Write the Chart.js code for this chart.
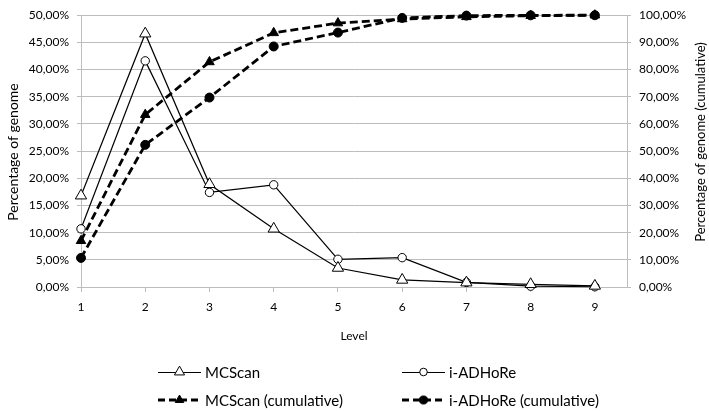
<!DOCTYPE html>
<html>
<head>
<meta charset="utf-8">
<script src="https://cdn.jsdelivr.net/npm/chart.js@4"></script>
<style>
  html, body { margin: 0; padding: 0; background: #fff; }
  #wrap { width: 709px; height: 411px; position: relative; }
</style>
</head>
<body>
<div id="wrap"><canvas id="chart"></canvas></div>
<script>
// Data
const levels = [1, 2, 3, 4, 5, 6, 7, 8, 9];
const mcscan = [16.8, 46.6, 18.9, 10.7, 3.5, 1.3, 0.8, 0.5, 0.2];
const iadhore = [10.7, 41.6, 17.4, 18.8, 5.1, 5.4, 0.85, 0.15, 0.05];
const mcscanCum = [17.0, 63.4, 82.8, 93.5, 97.1, 98.6, 99.4, 99.8, 100];
const iadhoreCum = [10.7, 52.3, 69.7, 88.5, 93.6, 99.0, 99.85, 99.95, 100];
const seriesNames = ['MCScan', 'i-ADHoRe', 'MCScan (cumulative)', 'i-ADHoRe (cumulative)'];
const leftTitle = 'Percentage of genome';
const rightTitle = 'Percentage of genome (cumulative)';

const FONT = "Lato, 'Open Sans', sans-serif";
const GRID = '#bdbdbd';

function pts(vals) {
  return levels.map((l, i) => ({ x: l, y: vals[i] }));
}
function pct(v) {
  return v.toFixed(2).replace('.', ',') + '%';
}

const styles = [
  { pointStyle: 'triangle', radius: 6.5, fill: '#fff', dash: [], width: 1.2 },
  { pointStyle: 'circle', radius: 4.2, fill: '#fff', dash: [], width: 1.2 },
  { pointStyle: 'triangle', radius: 5.5, fill: '#000', dash: [8, 4], width: 2.8 },
  { pointStyle: 'circle', radius: 4.5, fill: '#000', dash: [8, 4], width: 2.8 }
];

const datasets = [mcscan, iadhore, mcscanCum, iadhoreCum].map((vals, i) => ({
  label: seriesNames[i],
  data: pts(vals),
  yAxisID: i < 2 ? 'y' : 'y2',
  borderColor: '#000',
  borderWidth: styles[i].width,
  borderDash: styles[i].dash,
  pointStyle: styles[i].pointStyle,
  pointRadius: styles[i].radius,
  pointBackgroundColor: styles[i].fill,
  pointBorderColor: '#000',
  pointBorderWidth: 1,
  tension: 0,
  fill: false,
  clip: false
}));

// Axis titles (both read bottom-to-top) and a 2x2 legend below the axis
const extrasPlugin = {
  id: 'extras',
  afterDraw(chart) {
    const ctx = chart.ctx;
    ctx.save();
    ctx.fillStyle = '#000';
    ctx.textAlign = 'center';
    ctx.textBaseline = 'middle';
    [[13, 152, leftTitle, 14], [701, 142, rightTitle, 13]].forEach(([x, y, t, size]) => {
      ctx.save();
      ctx.font = size + 'px ' + FONT;
      ctx.translate(x, y);
      ctx.rotate(-Math.PI / 2);
      ctx.fillText(t, 0, 0);
      ctx.restore();
    });

    const cells = [
      { x: 158, y: 372 }, { x: 402, y: 372 },
      { x: 158, y: 400 }, { x: 402, y: 400 }
    ];
    ctx.font = '15px ' + FONT;
    ctx.textAlign = 'left';
    cells.forEach((c, i) => {
      const s = styles[i];
      ctx.strokeStyle = '#000';
      if (s.dash.length) {
        ctx.lineWidth = 2.8;
        ctx.setLineDash([7, 4]);
        ctx.beginPath();
        ctx.moveTo(c.x, c.y);
        ctx.lineTo(c.x + 43, c.y);
      } else {
        ctx.lineWidth = 1;
        ctx.setLineDash([]);
        ctx.beginPath();
        ctx.moveTo(c.x, c.y + 0.5);
        ctx.lineTo(c.x + 43, c.y + 0.5);
      }
      ctx.stroke();
      ctx.setLineDash([]);
      ctx.fillStyle = s.fill;
      ctx.lineWidth = 1;
      Chart.helpers.drawPoint(ctx, { pointStyle: s.pointStyle, radius: s.radius * 0.9, rotation: 0, borderWidth: 1 }, c.x + 21.5, c.y);
      ctx.fillStyle = '#000';
      ctx.fillText(seriesNames[i], c.x + 47, c.y + 1);
    });
    ctx.restore();
  }
};

new Chart(document.getElementById('chart'), {
  type: 'line',
  data: { datasets },
  plugins: [extrasPlugin],
  options: {
    responsive: true,
    maintainAspectRatio: false,
    animation: false,
    layout: { padding: { top: 15, bottom: 64, left: 0, right: 0 } },
    plugins: { legend: { display: false }, tooltip: { enabled: false } },
    scales: {
      x: {
        type: 'linear',
        min: 1,
        max: 9.5,
        afterBuildTicks(axis) {
          axis.ticks = levels.map(v => ({ value: v }));
        },
        afterFit(axis) { axis.height = 60; },
        grid: { drawOnChartArea: false, drawTicks: true, tickLength: 5, color: GRID },
        border: { color: GRID },
        ticks: { color: '#000', font: { family: FONT, size: 12 }, padding: 8, maxRotation: 0 },
        title: { display: true, text: 'Level', color: '#000', font: { family: FONT, size: 12 }, padding: { top: 8 } }
      },
      y: {
        position: 'left',
        min: 0,
        max: 50,
        afterFit(axis) { axis.width = 81; },
        grid: { color: GRID, tickLength: 4, lineWidth: 1 },
        border: { color: GRID },
        ticks: { stepSize: 5, color: '#000', font: { family: FONT, size: 12 }, padding: 8, callback: v => pct(v) }
      },
      y2: {
        position: 'right',
        min: 0,
        max: 100,
        afterFit(axis) { axis.width = 82; },
        grid: { drawOnChartArea: false, color: GRID, tickLength: 4 },
        border: { color: GRID },
        ticks: { stepSize: 10, color: '#000', font: { family: FONT, size: 12 }, padding: 8, callback: v => pct(v) }
      }
    }
  }
});
</script>
</body>
</html>
